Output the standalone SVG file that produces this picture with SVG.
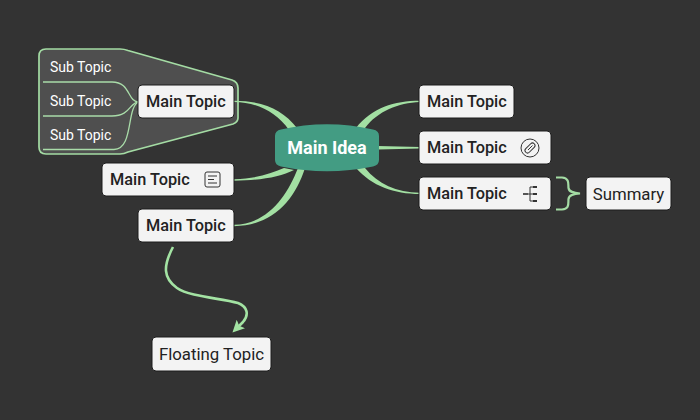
<svg xmlns="http://www.w3.org/2000/svg" width="700" height="420" viewBox="0 0 700 420">
<style>
.n{fill:#f3f3f3;stroke:#1c1c1c;stroke-width:1}
.t{font-family:Roboto,"Liberation Sans",sans-serif;fill:#222}
.m{font-size:16.300px;font-weight:500}
.s{font-size:14px;fill:#fff}
.b{fill:#a3e0a3}
.l{fill:none;stroke:#a9dca9;stroke-width:1.300}
.ic{fill:none;stroke:#333;stroke-width:1}
</style>
<defs><marker id="ah" markerWidth="14" markerHeight="14" refX="7" refY="6" orient="auto" markerUnits="userSpaceOnUse"><path d="M0 0L12 6L0 12L2.500 6Z" fill="#a3e3a3"/></marker></defs>
<rect width="700" height="420" fill="#333"/>
<g id="boundary"><path d="M46 49H120Q124 49 128 50.500L232 80Q238 82 238 88V118Q238 122 233 124L128 152Q124 154 120 154H46Q39 154 39 147V56Q39 49 46 49Z" fill="#4f4f4f" stroke="#a4dca4" stroke-width="1.700"/></g>
<g id="connectors">
<path class="b" d="M297 128C283 110 264 100.800 234 100.800L234 102C258 102.500 276 112 289 130Z"/>
<path class="b" d="M356 128C372 108 394 100.800 420 100.800L420 102C398 103 378 111 365 128Z"/>
<path class="b" d="M378 146L420 147L420 148.500L378 149.500Z"/>
<path class="b" d="M356 168C372 186 394 194 420 194L420 192.800C396 192.500 378 184 365 168Z"/>
<path class="b" d="M284 168C270 174 256 178.500 234 179.300L234 180.700C260 180.500 280 177 294 170Z"/>
<path class="b" d="M298 168C287 196 268 224 234 224.800L234 226.200C272 226 295 200 305 168Z"/>
<path class="l" d="M139 102C127 102 131 82 112 82H43"/>
<path class="l" d="M139 102C129 102 131 116 112 116H43"/>
<path class="l" d="M139 102C126 106 134 149.500 114 149.500H43"/>
<path d="M556 177.500H562C570 178 568 185 568.500 188C569 192 573 193 580 193.500C573 194 569 195 568.500 199C568 203 570 209 562 209.500H556" fill="none" stroke="#a4dca4" stroke-width="2.200"/>
<path d="M173 247C163 266 163 278 177 288C190 297 220 298 238 303C248 307 249 315 243 322L236 329" fill="none" stroke="#a3e3a3" stroke-width="2.600" marker-end="url(#ah)"/>
</g>
<g id="idea"><path d="M281 129.500Q327 119 373 129.500Q379 130.500 379 136V160Q379 165 373 166.500Q327 176 281 166.500Q275 165 275 160V136Q275 130.500 281 129.500Z" fill="#439c83"/><text x="327" y="154" text-anchor="middle" font-family="Roboto,Liberation Sans,sans-serif" font-size="18" font-weight="700" fill="#fff">Main Idea</text></g>
<g id="sub1"><text class="t s" x="50" y="72">Sub Topic</text></g>
<g id="sub2"><text class="t s" x="50" y="106">Sub Topic</text></g>
<g id="sub3"><text class="t s" x="50" y="140">Sub Topic</text></g>
<g id="main1"><rect class="n" x="138" y="85" width="96" height="33" rx="4"/><text class="t m" x="146" y="107">Main Topic</text></g>
<g id="main2"><rect class="n" x="102" y="163" width="132" height="33" rx="4"/><text class="t m" x="110" y="185">Main Topic</text><rect class="ic" x="205" y="172" width="15" height="15" rx="2"/><path class="ic" d="M208 176H217M208 179.500H214M208 183H217"/></g>
<g id="main3"><rect class="n" x="138" y="209" width="96" height="33" rx="4"/><text class="t m" x="146" y="231">Main Topic</text></g>
<g id="main4"><rect class="n" x="419" y="85" width="95" height="33" rx="4"/><text class="t m" x="427" y="107">Main Topic</text></g>
<g id="main5"><rect class="n" x="419" y="131" width="132" height="33" rx="4"/><text class="t m" x="427" y="153">Main Topic</text><circle class="ic" cx="530" cy="148" r="9"/><rect class="ic" x="524" y="145.500" width="12" height="5" rx="2.500" transform="rotate(-45 530 148)"/><path class="ic" d="M528 150L532.500 145.500"/></g>
<g id="main6"><rect class="n" x="419" y="177" width="132" height="33" rx="4"/><text class="t m" x="427" y="199">Main Topic</text><path class="ic" d="M523 194H530M530 187V201M530 187H537M530 194H537M530 201H537"/><rect x="523" y="193" width="5" height="2" fill="#555"/><rect x="533" y="186" width="4" height="2" fill="#333"/><rect x="533" y="193" width="4" height="2" fill="#333"/><rect x="533" y="200" width="4" height="2" fill="#333"/></g>
<g id="summary"><rect class="n" x="586" y="177" width="85" height="33" rx="4"/><text class="t" x="628.500" y="200" text-anchor="middle" font-size="16.800">Summary</text></g>
<g id="floating"><rect class="n" x="152" y="337" width="119" height="34" rx="4"/><text class="t" x="211.500" y="360" text-anchor="middle" font-size="16.800">Floating Topic</text></g>
</svg>
